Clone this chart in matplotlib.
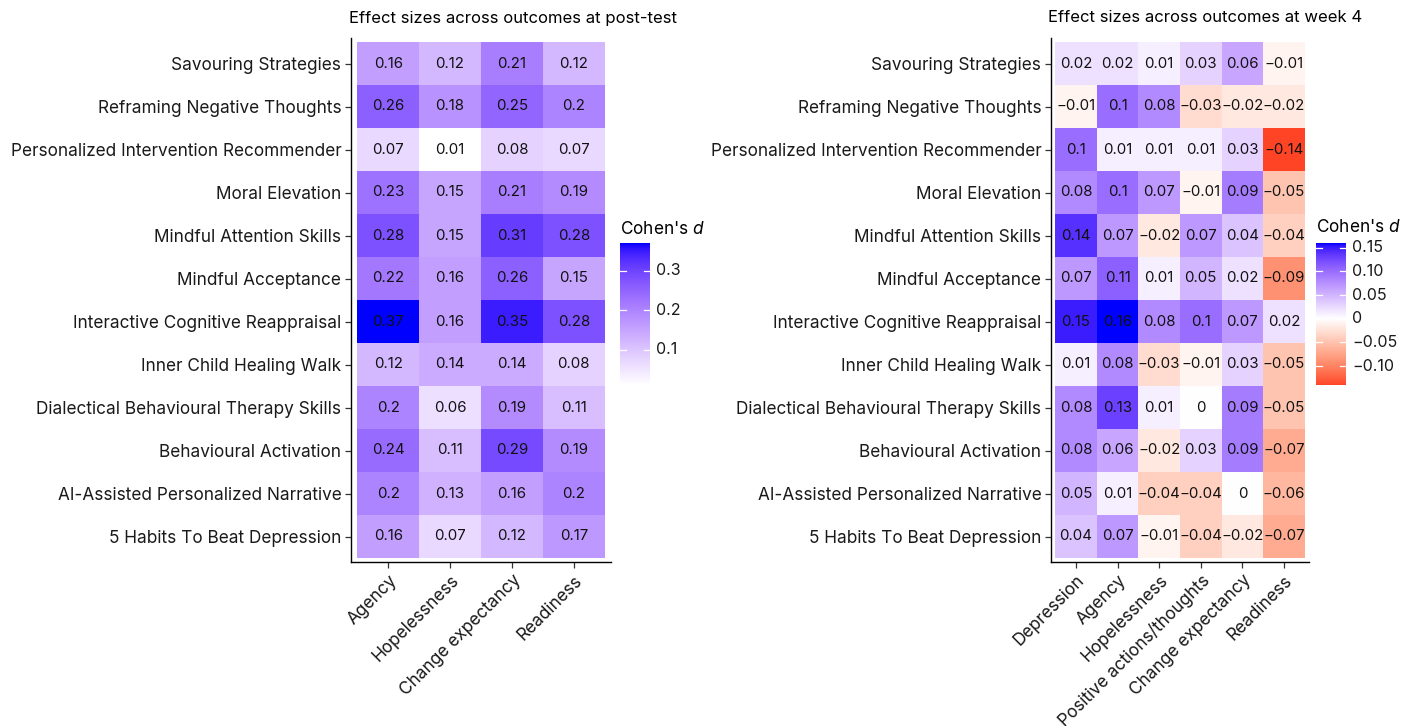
import numpy as np
import matplotlib
matplotlib.use("Agg")
import matplotlib.pyplot as plt
from matplotlib.colors import ListedColormap

plt.rcParams['font.family'] = ['Inter', 'DejaVu Sans']
plt.rcParams['mathtext.fontset'] = 'custom'
plt.rcParams['mathtext.rm'] = 'Inter'
plt.rcParams['mathtext.it'] = 'Inter:italic'

interventions = [
    "Savouring Strategies",
    "Reframing Negative Thoughts",
    "Personalized Intervention Recommender",
    "Moral Elevation",
    "Mindful Attention Skills",
    "Mindful Acceptance",
    "Interactive Cognitive Reappraisal",
    "Inner Child Healing Walk",
    "Dialectical Behavioural Therapy Skills",
    "Behavioural Activation",
    "AI-Assisted Personalized Narrative",
    "5 Habits To Beat Depression",
]

post_outcomes = ["Agency", "Hopelessness", "Change expectancy", "Readiness"]
post_d = [
    [0.16, 0.12, 0.21, 0.12],
    [0.26, 0.18, 0.25, 0.2],
    [0.07, 0.01, 0.08, 0.07],
    [0.23, 0.15, 0.21, 0.19],
    [0.28, 0.15, 0.31, 0.28],
    [0.22, 0.16, 0.26, 0.15],
    [0.37, 0.16, 0.35, 0.28],
    [0.12, 0.14, 0.14, 0.08],
    [0.2, 0.06, 0.19, 0.11],
    [0.24, 0.11, 0.29, 0.19],
    [0.2, 0.13, 0.16, 0.2],
    [0.16, 0.07, 0.12, 0.17],
]

week4_outcomes = ["Depression", "Agency", "Hopelessness",
                  "Positive actions/thoughts", "Change expectancy", "Readiness"]
week4_d = [
    [0.02, 0.02, 0.01, 0.03, 0.06, -0.01],
    [-0.01, 0.1, 0.08, -0.03, -0.02, -0.02],
    [0.1, 0.01, 0.01, 0.01, 0.03, -0.14],
    [0.08, 0.1, 0.07, -0.01, 0.09, -0.05],
    [0.14, 0.07, -0.02, 0.07, 0.04, -0.04],
    [0.07, 0.11, 0.01, 0.05, 0.02, -0.09],
    [0.15, 0.16, 0.08, 0.1, 0.07, 0.02],
    [0.01, 0.08, -0.03, -0.01, 0.03, -0.05],
    [0.08, 0.13, 0.01, 0, 0.09, -0.05],
    [0.08, 0.06, -0.02, 0.03, 0.09, -0.07],
    [0.05, 0.01, -0.04, -0.04, 0, -0.06],
    [0.04, 0.07, -0.01, -0.04, -0.02, -0.07],
]

post_ticks = [0.1, 0.2, 0.3]
post_tick_labels = ["0.1", "0.2", "0.3"]
week4_ticks = [-0.10, -0.05, 0, 0.05, 0.10, 0.15]
week4_tick_labels = ["\u22120.10", "\u22120.05", "0", "0.05", "0.10", "0.15"]


# --- Lab-space colour ramps -------------------------------------------------
def srgb_to_lab(rgb):
    c = np.asarray(rgb, float)
    c = np.where(c <= 0.04045, c / 12.92, ((c + 0.055) / 1.055) ** 2.4)
    m = np.array([[0.4124, 0.3576, 0.1805],
                  [0.2126, 0.7152, 0.0722],
                  [0.0193, 0.1192, 0.9505]])
    xyz = m @ c / np.array([0.95047, 1.0, 1.08883])
    f = np.where(xyz > 0.008856, np.cbrt(xyz), 7.787 * xyz + 16 / 116)
    return np.array([116 * f[1] - 16, 500 * (f[0] - f[1]), 200 * (f[1] - f[2])])


def lab_to_srgb(lab):
    L, a, b = lab
    fy = (L + 16) / 116
    fx = fy + a / 500
    fz = fy - b / 200
    f = np.array([fx, fy, fz])
    xyz = np.where(f ** 3 > 0.008856, f ** 3, (f - 16 / 116) / 7.787)
    xyz = xyz * np.array([0.95047, 1.0, 1.08883])
    m = np.array([[3.2406, -1.5372, -0.4986],
                  [-0.9689, 1.8758, 0.0415],
                  [0.0557, -0.2040, 1.0570]])
    c = m @ xyz
    c = np.where(c <= 0.0031308, 12.92 * c, 1.055 * np.clip(c, 0, None) ** (1 / 2.4) - 0.055)
    return np.clip(c, 0, 1)


def lab_ramp(colors, n=256):
    labs = [srgb_to_lab(c) for c in colors]
    pos = np.linspace(0, 1, len(colors))
    out = []
    for t in np.linspace(0, 1, n):
        i = min(np.searchsorted(pos, t, side='right') - 1, len(colors) - 2)
        u = (t - pos[i]) / (pos[i + 1] - pos[i])
        out.append(lab_to_srgb(labs[i] * (1 - u) + labs[i + 1] * u))
    return ListedColormap(out)


seq_cmap = lab_ramp([(1, 1, 1), (0, 0, 1)])
div_cmap = lab_ramp([(1, 0, 0), (1, 1, 1), (0, 0, 1)])


def fmt(v):
    s = f"{round(v, 2):g}"
    return s.replace("-", "\u2212")


W, H = 1411, 726
fig = plt.figure(figsize=(W / 100, H / 100), dpi=100)


def px_axes(x0, y0, x1, y1):
    return fig.add_axes([x0 / W, 1 - y1 / H, (x1 - x0) / W, (y1 - y0) / H])


def heatmap(ax, data, cols, to_unit):
    arr = np.array(data, float)
    nr, nc = arr.shape
    for r in range(nr):
        for c in range(nc):
            v = arr[r, c]
            ax.add_patch(plt.Rectangle((c - 0.5, r - 0.5), 1, 1,
                                       facecolor=to_unit(v), edgecolor='none'))
            ax.text(c, r, fmt(v), ha='center', va='center', fontsize=10.8, color='#111111')
    ax.set_xlim(-0.6, nc - 0.4)
    ax.set_ylim(nr - 0.4, -0.6)
    ax.set_xticks(range(nc))
    ax.set_xticklabels(cols, rotation=45, ha='right', rotation_mode='anchor', fontsize=12.4)
    ax.set_yticks(range(nr))
    ax.set_yticklabels(interventions, fontsize=12.4)
    for s in ['top', 'right']:
        ax.spines[s].set_visible(False)
    for s in ['left', 'bottom']:
        ax.spines[s].set_linewidth(1.0)
    ax.tick_params(length=4, width=0.9, color='#333333', pad=3, labelcolor='#1a1a1a')


def colorbar(cax, lo, hi, to_unit, ticks, labels):
    vals = np.linspace(lo, hi, 300)
    img = np.array([to_unit(v) for v in vals])[:, None, :]
    cax.imshow(img, aspect='auto', origin='lower', extent=(0, 1, lo, hi))
    for t, lab in zip(ticks, labels):
        cax.plot([0, 0.2], [t, t], color='white', lw=0.9)
        cax.plot([0.8, 1], [t, t], color='white', lw=0.9)
        cax.text(1.2, t, lab, transform=cax.get_yaxis_transform(),
                 ha='left', va='center', fontsize=11.5, color='#1a1a1a')
    cax.set_xlim(0, 1)
    cax.set_ylim(lo, hi)
    cax.axis('off')


# post-test panel: white -> blue over the data range
p = np.array(post_d)
p_lo, p_hi = p.min(), p.max()
post_col = lambda v: seq_cmap((v - p_lo) / (p_hi - p_lo))

ax1 = px_axes(351, 37.7, 611, 562.3)
heatmap(ax1, post_d, post_outcomes, post_col)
fig.text(349 / W, 1 - 18 / H, "Effect sizes across outcomes at post-test",
         ha='left', va='center', fontsize=12)

cax1 = px_axes(620, 243, 650, 385)
colorbar(cax1, p_lo, p_hi, post_col, post_ticks, post_tick_labels)
fig.text(620 / W, 1 - 229 / H, "Cohen's $\\mathit{d}$", ha='left', va='center', fontsize=12.4)

# week 4 panel: red -> white -> blue centred on zero
w = np.array(week4_d)
w_lo, w_hi = w.min(), w.max()
w_half = max(abs(w_lo), abs(w_hi))
week4_col = lambda v: div_cmap(0.5 + v / (2 * w_half))

ax2 = px_axes(1051, 37.7, 1309, 562.3)
heatmap(ax2, week4_d, week4_outcomes, week4_col)
fig.text(1048 / W, 1 - 18 / H, "Effect sizes across outcomes at week 4",
         ha='left', va='center', fontsize=12)

cax2 = px_axes(1316, 243, 1346, 385)
colorbar(cax2, w_lo, w_hi, week4_col, week4_ticks, week4_tick_labels)
fig.text(1316 / W, 1 - 227 / H, "Cohen's $\\mathit{d}$", ha='left', va='center', fontsize=12.4)

fig.savefig("out.png", dpi=100)
